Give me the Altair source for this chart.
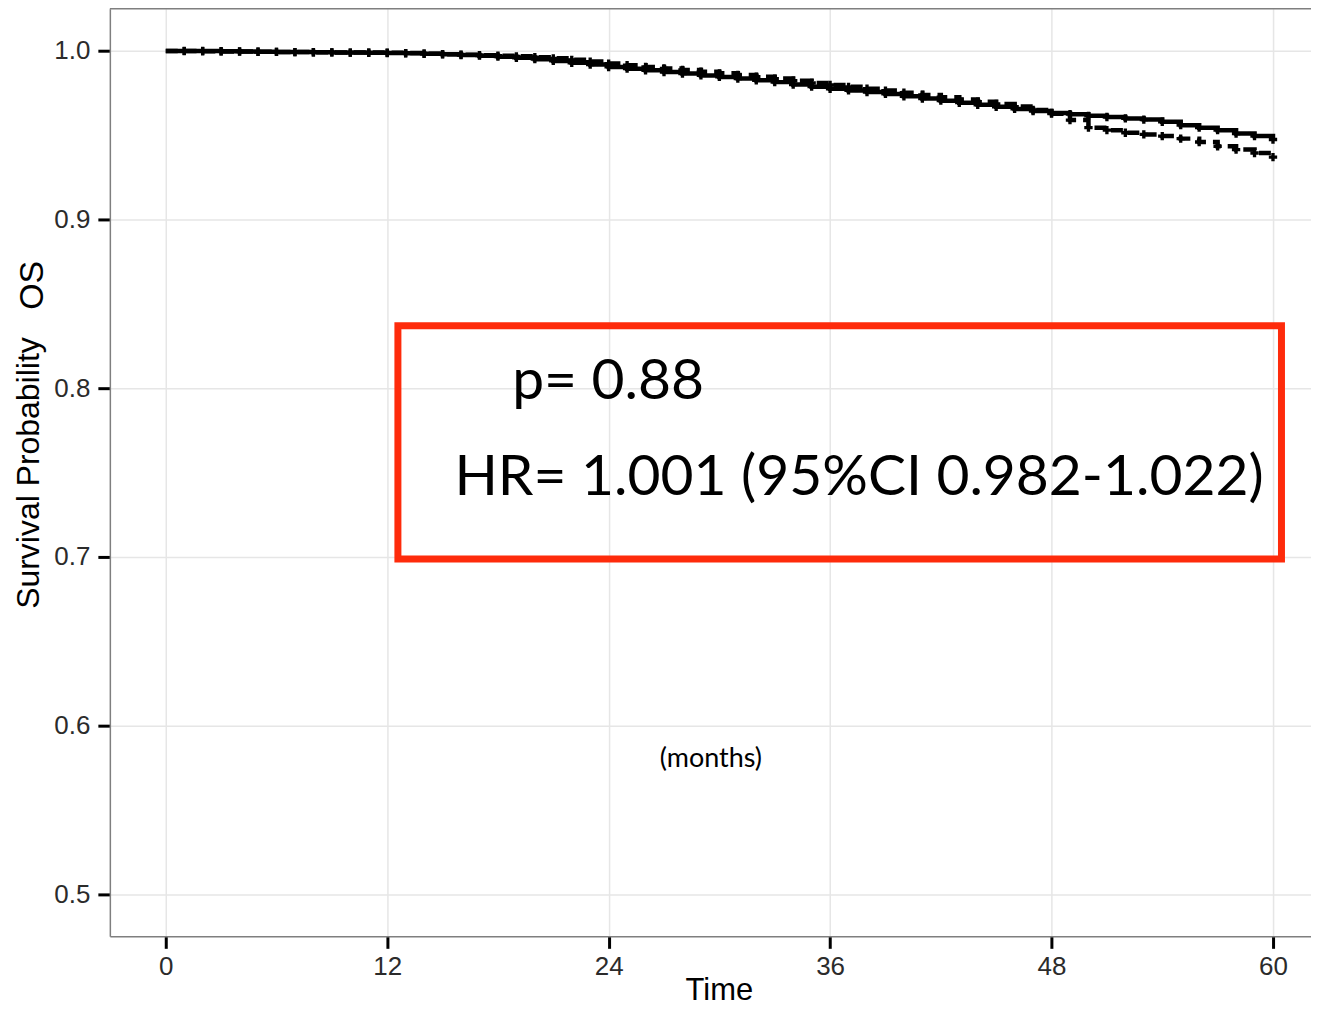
import altair as alt
import pandas as pd

# ---- data ----
months = list(range(0, 61))
surv_solid = [
    1.0000, 1.0000, 1.0000, 0.9998, 0.9997, 0.9995, 0.9994, 0.9993, 0.9992, 0.9991,
    0.9990, 0.9989, 0.9988, 0.9986, 0.9983, 0.9980, 0.9976, 0.9972, 0.9966, 0.9959,
    0.9951, 0.9941, 0.9930, 0.9919, 0.9905, 0.9895, 0.9885, 0.9875, 0.9866, 0.9855,
    0.9846, 0.9836, 0.9826, 0.9815, 0.9801, 0.9788, 0.9776, 0.9766, 0.9756, 0.9745,
    0.9731, 0.9718, 0.9705, 0.9693, 0.9681, 0.9669, 0.9656, 0.9644, 0.9632, 0.9625,
    0.9615, 0.9608, 0.9600, 0.9593, 0.9580, 0.9560, 0.9545, 0.9530, 0.9510, 0.9495,
    0.9475,
]
surv_dashed = [
    1.0000, 0.9999, 0.9998, 0.9997, 0.9996, 0.9995, 0.9994, 0.9993, 0.9992, 0.9991,
    0.9990, 0.9990, 0.9989, 0.9987, 0.9984, 0.9981, 0.9978, 0.9975, 0.9972, 0.9968,
    0.9963, 0.9956, 0.9947, 0.9937, 0.9925, 0.9915, 0.9905, 0.9896, 0.9887, 0.9877,
    0.9867, 0.9857, 0.9847, 0.9836, 0.9823, 0.9810, 0.9798, 0.9787, 0.9776, 0.9765,
    0.9752, 0.9739, 0.9726, 0.9712, 0.9699, 0.9686, 0.9670, 0.9650, 0.9628, 0.9590,
    0.9545, 0.9530, 0.9515, 0.9505, 0.9495, 0.9480, 0.9460, 0.9435, 0.9415, 0.9395,
    0.9370,
]
group_names = ["Group 1", "Group 2"]
x_ticks = [0, 12, 24, 36, 48, 60]
y_ticks = [0.5, 0.6, 0.7, 0.8, 0.9, 1.0]

p_text = ["p= 0.88"]
hr_text = ["HR= 1.001 (95%CI 0.982-1.022)"]
unit_text = ["(months)"]

df = pd.DataFrame({
    "time": months + months,
    "surv": surv_solid + surv_dashed,
    "group": [group_names[0]] * len(months) + [group_names[1]] * len(months),
})
# censor marks along both curves (not at the start)
censor_df = df[df["time"] > 0]

W, H = 1203, 929
x_scale = alt.Scale(domain=[-3.03, 62.06], nice=False, zero=False)
y_scale = alt.Scale(domain=[0.475, 1.025], nice=False, zero=False)

FONT = "Liberation Sans"
x_axis = alt.Axis(
    values=x_ticks, title="Time", format="d",
    grid=True, gridColor="#e6e6e6", gridWidth=1.5,
    tickColor="black", tickWidth=3, tickSize=12,
    labelFont=FONT, labelFontSize=26, labelColor="#2b2b2b", labelPadding=5,
    domainColor="#7f7f7f", domainWidth=1.5,
    titleFont=FONT, titleFontSize=31, titleFontWeight="normal", titleColor="black",
    titleBaseline="alphabetic", titleY=63, titleX=610, titleAlign="center",
)
y_axis = alt.Axis(
    values=y_ticks, title="Survival Probability", format=".1f",
    grid=True, gridColor="#e6e6e6", gridWidth=1.5,
    tickColor="black", tickWidth=3, tickSize=12,
    labelFont=FONT, labelFontSize=26, labelColor="#2b2b2b", labelPadding=8,
    domainColor="#7f7f7f", domainWidth=1.5,
    titleFont=FONT, titleFontSize=32, titleFontWeight="normal", titleColor="black",
    titlePadding=8,
)

X = alt.X("time:Q", scale=x_scale, axis=x_axis)
Y = alt.Y("surv:Q", scale=y_scale, axis=y_axis)

lines = alt.Chart(df).mark_line(
    interpolate="step-after", color="black", strokeWidth=4.5
).encode(
    x=X, y=Y,
    strokeDash=alt.StrokeDash(
        "group:N",
        scale=alt.Scale(domain=group_names, range=[[1, 0], [12, 7]]),
        legend=None,
    ),
)

censors = alt.Chart(censor_df).mark_point(
    shape="cross", filled=True, color="black", size=70, opacity=1
).encode(x=X, y=Y, detail="group:N")

box_df = pd.DataFrame({"time": [12.58], "time2": [60.46], "surv": [0.8371], "surv2": [0.6988]})
box = alt.Chart(box_df).mark_rect(
    fillOpacity=0, stroke="#fe2b0b", strokeWidth=7
).encode(x=X, x2="time2:Q", y=Y, y2="surv2:Q")

p_df = pd.DataFrame({"time": [18.77], "surv": [0.7938], "label": p_text})
hr_df = pd.DataFrame({"time": [15.64], "surv": [0.7364], "label": hr_text})
unit_df = pd.DataFrame({"time": [29.54], "surv": [0.5752], "label": unit_text})

p_mark = alt.Chart(p_df).mark_text(
    align="left", baseline="alphabetic", font="Lato", fontSize=57, color="black"
).encode(x=X, y=Y, text="label:N")
hr_mark = alt.Chart(hr_df).mark_text(
    align="left", baseline="alphabetic", font="Lato", fontSize=57, color="black"
).encode(x=X, y=Y, text="label:N")
unit_mark = alt.Chart(unit_df).mark_text(
    align="center", baseline="alphabetic", font="Lato", fontSize=27, color="black"
).encode(x=X, y=Y, text="label:N")

os_mark = alt.Chart(pd.DataFrame({"label": ["OS"]})).mark_text(
    align="center", baseline="alphabetic", angle=270, font=FONT, fontSize=34, color="black"
).encode(x=alt.value(-67), y=alt.value(277), text="label:N")

top_border = alt.Chart(pd.DataFrame({"a": [0]})).mark_rule(
    color="#7f7f7f", strokeWidth=1.5
).encode(x=alt.value(0), x2=alt.value(W), y=alt.value(0))

chart = alt.layer(
    lines, censors, box, p_mark, hr_mark, unit_mark, os_mark, top_border
).properties(
    width=W, height=H,
    autosize=alt.AutoSizeParams(type="none"),
    padding={"left": 102, "top": 0, "right": 0, "bottom": 70},
    background="white",
).configure_view(stroke=None)

chart.save("out.html", embed_options={"renderer": "svg", "actions": False})
